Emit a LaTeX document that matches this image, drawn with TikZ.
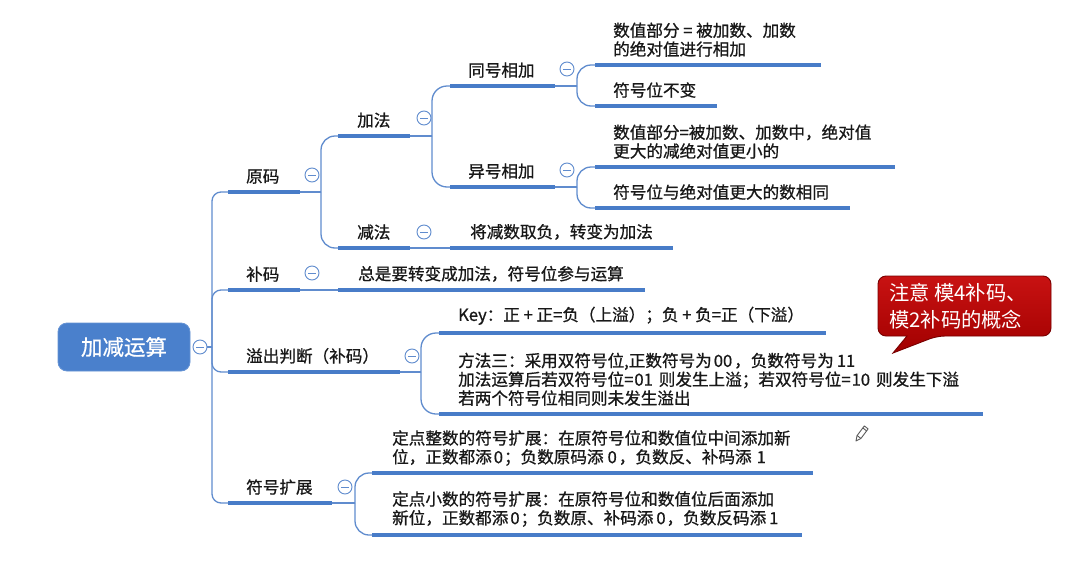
\documentclass[tikz,border=0pt]{standalone}
\usepackage{fontspec}
\setmainfont{Noto Sans CJK SC}
\newfontfamily\medcjk{Noto Sans CJK SC}[FakeBold=0.8]
\definecolor{ulblue}{RGB}{72,124,200}
\definecolor{cnblue}{RGB}{96,140,206}
\definecolor{rootblue}{RGB}{74,128,204}
\definecolor{txtc}{RGB}{24,24,24}
\definecolor{redtop}{RGB}{200,18,18}
\definecolor{redbot}{RGB}{162,0,0}
\definecolor{redline}{RGB}{120,0,0}
\definecolor{pencilc}{RGB}{90,90,90}
\begin{document}
\begin{tikzpicture}[x=1pt,y=-1pt,
  ul/.style={draw=ulblue,line width=3.8pt},
  conn/.style={draw=cnblue,line width=1.3pt},
  lbl/.style={font=\medcjk\fontsize{16.6}{18.8}\selectfont,text=txtc,inner sep=0pt,anchor=south west,align=left},
  fold/.style={circle,draw=cnblue,line width=0.9pt,fill=white,minimum size=14pt,inner sep=0pt,
     path picture={\draw[cnblue,line width=0.9pt]([xshift=-3.6pt]path picture bounding box.center)--([xshift=3.6pt]path picture bounding box.center);}},
  rootbox/.style={rectangle,rounded corners=9pt,fill=rootblue,draw=rootblue!85!white,line width=0.8pt,
     minimum width=132pt,minimum height=48pt,text=white,font=\medcjk\fontsize{21.5}{24}\selectfont},
  calltext/.style={text=white,font=\fontsize{20.3}{27}\selectfont,align=left,inner sep=0pt,anchor=west}]
\fill[white] (0,0) rectangle (1069,560);
\useasboundingbox (0,0) rectangle (1069,560);

% ---------- root ----------
\node[rootbox] (root) at (124,347) {加减运算};
\node[fold] (f0) at (200,347) {};
\coordinate (tj) at (212,347);
\draw[conn] (f0.east) -- (tj);

% ---------- level 1 ----------
\coordinate (yuanA) at (228,192); \coordinate (yuanB) at (300,192);
\coordinate (buA) at (228,290);   \coordinate (buB) at (300,290);
\coordinate (yiA) at (228,372);   \coordinate (yiB) at (400,372);
\coordinate (kzA) at (228,503);   \coordinate (kzB) at (332,503);
\draw[conn,rounded corners=9pt] (tj) |- (yuanA);
\draw[conn,rounded corners=9pt] (tj) |- (buA);
\draw[conn,rounded corners=9pt] (tj) |- (yiA);
\draw[conn,rounded corners=9pt] (tj) |- (kzA);
\draw[ul] (yuanA) -- (yuanB);
\draw[ul] (buA) -- (buB);
\draw[ul] (yiA) -- (yiB);
\draw[ul] (kzA) -- (kzB);
\node[lbl] (yuan) at (246,184) {原码};
\node[lbl] (bu) at (246,282) {补码};
\node[lbl] (yichu) at (246,364) {溢出判断（补码）};
\node[lbl] (kuozhan) at (246,495) {符号扩展};

% ---------- level 2 ----------
\coordinate (jiaA) at (338,136);  \coordinate (jiaB) at (410,136);
\coordinate (jianA) at (338,248); \coordinate (jianB) at (410,248);
\coordinate (zsA) at (338,290);   \coordinate (zsB) at (645,290);
\coordinate (keyA) at (439,333);  \coordinate (keyB) at (826,333);
\coordinate (ffA) at (439,414);   \coordinate (ffB) at (983,414);
\coordinate (zsdA) at (372,473);  \coordinate (zsdB) at (813,473);
\coordinate (xsdA) at (372,535);  \coordinate (xsdB) at (802,535);

\coordinate (j1) at (321,192);
\draw[conn] (yuanB) -- (j1);
\draw[conn,rounded corners=14pt] (j1) |- (jiaA);
\draw[conn,rounded corners=14pt] (j1) |- (jianA);
\draw[conn] (buB) -- (zsA);
\coordinate (j3) at (421,372);
\draw[conn] (yiB) -- (j3);
\draw[conn,rounded corners=15pt] (j3) |- (keyA);
\draw[conn,rounded corners=15pt] (j3) |- (ffA);
\coordinate (j4) at (355,503);
\draw[conn] (kzB) -- (j4);
\draw[conn,rounded corners=14pt] (j4) |- (zsdA);
\draw[conn,rounded corners=14pt] (j4) |- (xsdA);

\draw[ul] (jiaA) -- (jiaB);
\draw[ul] (jianA) -- (jianB);
\draw[ul] (zsA) -- (zsB);
\draw[ul] (keyA) -- (keyB);
\draw[ul] (ffA) -- (ffB);
\draw[ul] (zsdA) -- (zsdB);
\draw[ul] (xsdA) -- (xsdB);

\node[lbl] (jiafa) at (357,128) {加法};
\node[lbl] (jianfa) at (357,240) {减法};
\node[lbl] (zongshi) at (358,282) {总是要转变成加法，符号位参与运算};
\node[lbl] (key) at (458,325) {Key：正 + 正=负（上溢）；负 + 负=正（下溢）};
\node[lbl] (fangfa) at (458,406) {方法三：采用双符号位,正数符号为\kern2pt 00\kern2pt，负数符号为\kern3pt 11\\加法运算后若双符号位=\kern1pt 01\kern6pt 则发生上溢；若双符号位=\kern1pt 10\kern6pt 则发生下溢\\若两个符号位相同则未发生溢出};
\node[lbl] (zhengshu) at (392,466) {定点整数的符号扩展：在原符号位和数值位中间添加新\\位，正数都添\kern2pt 0\kern1pt；负数原码添\kern4pt 0\kern2pt，负数反、补码添\kern5pt 1};
\node[lbl] (xiaoshu) at (392,527) {定点小数的符号扩展：在原符号位和数值位后面添加\\新位，正数都添\kern2pt 0\kern1pt；负数原、补码添\kern3pt 0\kern1pt，负数反码添\kern3pt 1};

% ---------- level 3 ----------
\coordinate (tongA) at (450,86);  \coordinate (tongB) at (555,86);
\coordinate (yihA) at (450,187);  \coordinate (yihB) at (555,187);
\coordinate (jiangA) at (450,248); \coordinate (jiangB) at (673,248);
\coordinate (j2) at (432,136);
\draw[conn] (jiaB) -- (j2);
\draw[conn,rounded corners=15pt] (j2) |- (tongA);
\draw[conn,rounded corners=15pt] (j2) |- (yihA);
\draw[conn] (jianB) -- (jiangA);
\draw[ul] (tongA) -- (tongB);
\draw[ul] (yihA) -- (yihB);
\draw[ul] (jiangA) -- (jiangB);
\node[lbl] (tong) at (468,78) {同号相加};
\node[lbl] (yihao) at (468,179) {异号相加};
\node[lbl] (jiang) at (470,240) {将减数取负，转变为加法};

% ---------- level 4 ----------
\coordinate (s1A) at (595,65);  \coordinate (s1B) at (821,65);
\coordinate (s2A) at (595,106); \coordinate (s2B) at (717,106);
\coordinate (s3A) at (595,167); \coordinate (s3B) at (895,167);
\coordinate (s4A) at (595,208); \coordinate (s4B) at (850,208);
\coordinate (j5) at (577,86);
\coordinate (j6) at (577,187);
\draw[conn] (tongB) -- (j5);
\draw[conn,rounded corners=14pt] (j5) |- (s1A);
\draw[conn,rounded corners=14pt] (j5) |- (s2A);
\draw[conn] (yihB) -- (j6);
\draw[conn,rounded corners=14pt] (j6) |- (s3A);
\draw[conn,rounded corners=14pt] (j6) |- (s4A);
\draw[ul] (s1A) -- (s1B);
\draw[ul] (s2A) -- (s2B);
\draw[ul] (s3A) -- (s3B);
\draw[ul] (s4A) -- (s4B);
\node[lbl] (t1) at (613,57) {数值部分 = 被加数、加数\\的绝对值进行相加};
\node[lbl] (t2) at (613,98) {符号位不变};
\node[lbl] (t3) at (613,159) {数值部分=被加数、加数中，绝对值\\更大的减绝对值更小的};
\node[lbl] (t4) at (613,200) {符号位与绝对值更大的数相同};

% ---------- fold markers ----------
\node[fold] (f1) at (312,175) {};
\node[fold] (f2) at (312,273) {};
\node[fold] (f3) at (412,356) {};
\node[fold] (f4) at (345,487) {};
\node[fold] (f5) at (424,118) {};
\node[fold] (f6) at (424,232) {};
\node[fold] (f7) at (567,69) {};
\node[fold] (f8) at (567,170) {};

% ---------- callout ----------
\path[draw=redline,line width=0.9pt,top color=redtop,bottom color=redbot]
  (878,284) [rounded corners=8pt] -- (878,276) -- (1051,276) -- (1051,336) -- (937,336)
  [sharp corners] -- (893,353) -- (907,336) [rounded corners=8pt] -- (878,336) -- (878,284);
\node[calltext] (callout) at (889,306) {注意 模4补码、\\模2补码的概念};

% ---------- pencil ----------
\begin{scope}[shift={(862,433)},rotate=53,pencilc,line width=0.9pt,line join=round]
  \draw (-5,-2.4) -- (7,-2.4) -- (7,2.4) -- (-5,2.4) -- cycle;
  \draw (-5,-2.4) -- (-10,0) -- (-5,2.4);
  \draw (4.5,-2.4) -- (4.5,2.4);
\end{scope}
\end{tikzpicture}
\end{document}
